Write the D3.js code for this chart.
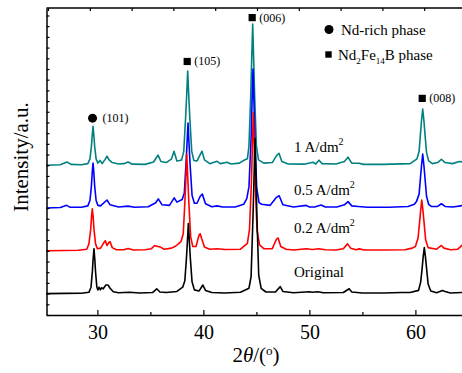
<!DOCTYPE html>
<html>
<head>
<meta charset="utf-8">
<script src="https://cdn.jsdelivr.net/npm/d3@7/dist/d3.min.js"></script>
<style>
  html, body { margin: 0; padding: 0; background: #fff; }
  svg { display: block; }
  text { font-family: "Liberation Serif", "Times New Roman", serif; fill: #000; }
</style>
</head>
<body>
<svg id="chart" width="462" height="373"></svg>
<script>
// ---------------- DATA ----------------
// 2θ (deg) and intensity above each curve's own baseline (a.u.)
const original = [
  [25.2,0],[27.0,2],[28.5,3],[29.2,12],[29.4,60],[29.53,210],[29.61,340],[29.68,420],[29.75,330],
  [29.83,200],[29.95,60],[30.05,35],[30.15,60],[30.28,35],[30.4,55],[30.55,45],[30.8,80],[31.0,80],
  [31.2,50],[31.5,18],[32.0,8],[33.0,12],[34.0,5],[35.2,10],[35.6,45],[35.9,15],[36.5,10],[37.5,20],
  [38.05,60],[38.25,120],[38.4,330],[38.5,500],[38.58,655],[38.67,500],[38.77,330],[38.93,110],
  [39.15,35],[39.6,25],[39.95,80],[40.2,30],[40.8,10],[42.0,6],[43.5,12],[44.3,50],[44.5,160],
  [44.68,720],[44.78,1100],[44.87,1450],[44.96,1100],[45.05,720],[45.22,170],[45.45,50],[45.9,15],
  [46.8,15],[47.25,65],[47.5,20],[48.5,8],[50.0,18],[50.3,12],[50.8,18],[51.3,8],[53.2,10],
  [53.75,45],[54.0,15],[55.0,5],[57.0,5],[58.7,10],[59.5,10],[60.3,30],[60.5,110],[60.62,220],
  [60.74,350],[60.84,430],[60.94,350],[61.07,220],[61.2,90],[61.45,25],[62.0,8],[62.55,30],
  [62.8,20],[63.3,5],[64.4,10],[65.0,5]
];
const cd02 = [
  [25.2,0],[27.0,3],[28.2,5],[29.0,15],[29.2,65],[29.37,200],[29.45,320],[29.52,393],[29.6,320],
  [29.68,200],[29.83,65],[30.0,20],[30.3,25],[30.6,75],[30.75,95],[30.9,50],[31.1,80],[31.2,85],
  [31.4,30],[31.8,10],[32.5,10],[32.9,22],[33.4,8],[34.5,10],[35.1,20],[35.4,50],[35.7,40],
  [35.95,35],[36.3,15],[37.0,25],[37.4,45],[37.7,70],[37.9,90],[38.1,160],[38.25,450],[38.35,680],
  [38.43,905],[38.53,680],[38.63,450],[38.8,130],[39.0,40],[39.3,40],[39.6,150],[39.7,160],
  [39.85,110],[40.1,35],[40.6,15],[41.3,20],[42.0,12],[43.5,15],[44.15,70],[44.35,200],[44.53,640],
  [44.62,980],[44.71,1290],[44.8,980],[44.89,640],[45.06,190],[45.3,55],[45.7,20],[46.5,20],
  [46.9,110],[47.05,120],[47.3,40],[47.8,15],[48.5,8],[49.7,20],[50.3,12],[50.9,20],[51.5,10],
  [52.5,8],[53.2,20],[53.6,65],[53.9,25],[54.4,10],[54.7,18],[55.2,8],[57.0,8],[59.0,10],
  [59.7,25],[60.0,40],[60.25,120],[60.37,240],[60.5,380],[60.6,475],[60.71,380],[60.84,240],
  [60.97,100],[61.2,30],[62.0,15],[62.45,50],[62.7,25],[63.3,10],[64.0,15],[64.5,60],[65.0,90]
];
const cd05 = [
  [25.2,0],[26.5,5],[27.1,25],[27.4,8],[28.5,8],[29.1,20],[29.3,70],[29.44,210],[29.52,340],
  [29.59,420],[29.66,340],[29.74,210],[29.88,70],[30.05,25],[30.3,20],[30.9,75],[31.2,30],[32.0,10],
  [32.9,18],[33.5,8],[34.8,12],[35.5,50],[35.75,85],[36.1,30],[36.8,25],[37.25,95],[37.5,55],
  [38.0,80],[38.2,140],[38.35,400],[38.45,590],[38.55,795],[38.65,590],[38.75,400],[38.93,120],
  [39.15,45],[39.4,45],[39.7,110],[39.9,130],[40.2,40],[40.8,12],[41.3,20],[41.8,10],[43.0,10],
  [43.8,35],[44.1,90],[44.3,200],[44.5,650],[44.59,990],[44.68,1300],[44.77,990],[44.86,650],
  [45.03,190],[45.25,50],[45.5,35],[46.3,25],[46.9,100],[47.15,115],[47.5,30],[48.5,10],[49.7,25],
  [50.0,10],[50.5,10],[51.1,28],[51.5,10],[52.6,10],[53.3,30],[53.65,60],[54.0,20],[54.6,15],
  [55.5,8],[57.5,8],[59.3,15],[59.9,35],[60.1,60],[60.35,130],[60.45,250],[60.58,400],[60.69,505],
  [60.8,400],[60.93,250],[61.05,110],[61.25,35],[61.5,15],[62.1,15],[62.45,40],[62.8,15],
  [63.5,10],[64.3,20],[65.0,60]
];
const cd1 = [
  [25.2,0],[26.5,4],[27.13,30],[27.5,8],[28.5,5],[29.1,15],[29.3,60],[29.44,180],[29.52,290],
  [29.59,365],[29.66,290],[29.74,180],[29.88,60],[30.05,20],[30.25,45],[30.45,15],[30.7,50],
  [30.91,84],[31.1,50],[31.4,25],[32.0,12],[32.5,15],[32.89,30],[33.3,10],[34.5,8],[35.3,30],
  [35.72,94],[36.0,35],[36.5,25],[37.0,60],[37.23,131],[37.5,40],[37.75,45],[37.95,50],[38.15,130],
  [38.32,440],[38.42,650],[38.52,880],[38.62,650],[38.72,440],[38.9,130],[39.1,45],[39.4,40],
  [39.87,131],[40.1,50],[40.6,15],[41.29,37],[41.6,15],[42.23,28],[42.6,12],[43.4,20],[43.83,47],
  [44.15,60],[44.3,180],[44.47,660],[44.56,1000],[44.65,1320],[44.74,1000],[44.83,660],[45.0,180],
  [45.2,50],[45.7,20],[46.5,25],[46.9,90],[47.13,112],[47.4,35],[48.0,12],[49.5,10],[50.34,28],
  [50.6,12],[50.9,47],[51.2,15],[52.5,12],[53.3,35],[53.64,75],[54.0,20],[54.68,19],[55.1,8],
  [57.0,8],[59.5,15],[60.15,60],[60.35,130],[60.45,260],[60.58,420],[60.69,525],[60.8,420],
  [60.93,260],[61.05,120],[61.25,40],[61.6,15],[62.1,25],[62.45,56],[62.8,25],[63.5,15],
  [64.15,35],[64.5,30],[65.0,40]
];

const seriesNames   = ["Original", "0.2 A/dm", "0.5 A/dm", "1 A/dm"];
const seriesData    = [original, cd02, cd05, cd1];
const seriesOffsets = [200, 600, 1000, 1400];
const seriesColors  = ["#000000", "#ff0000", "#0000ff", "#008080"];

const xTicksMajor = [30, 40, 50, 60];
const xTicksMinor = [35, 45, 55];

// peak annotations: hkl label, 2θ, marker y (a.u.), marker type
const peakLabels  = ["(101)", "(105)", "(006)", "(008)"];
const peakTheta   = [29.59, 38.52, 44.65, 60.69];
const peakMarkY   = [1840, 2370, 2780, 2025];
const peakMarker  = ["circle", "square", "square", "square"];

const legendLabels = ["Nd-rich phase", "Nd2Fe14B phase"];

// ---------------- CHART ----------------
const svg = d3.select("#chart");
const x = d3.scaleLinear().domain([25.2, 65]).range([46.5, 468.4]);
const y = d3.scaleLinear().domain([0, 2870]).range([315, 8]);
const xTop = d3.scaleLinear().domain([0, 10]).range([48, 466]);

// curves (teal first, black last)
const line = d3.line().x(d => x(d[0])).y(d => y(d[1]));
for (let i = seriesData.length - 1; i >= 0; i--) {
  const off = seriesOffsets[i];
  svg.append("path")
    .datum(seriesData[i].map(d => [d[0], d[1] + off]))
    .attr("d", line)
    .attr("fill", "none")
    .attr("stroke", seriesColors[i])
    .attr("stroke-width", 1.6)
    .attr("stroke-linejoin", "round");
}

// axes
const gB = svg.append("g").attr("transform", `translate(0,${y(0)})`)
  .call(d3.axisBottom(x).tickValues(xTicksMajor).tickSizeInner(-5).tickSizeOuter(0).tickPadding(10).tickFormat(d3.format("d")));
gB.selectAll("text").style("font-size", "20px").style("font-family", "Liberation Serif");
const gBm = svg.append("g").attr("transform", `translate(0,${y(0)})`)
  .call(d3.axisBottom(x).tickValues(xTicksMinor).tickSizeInner(-3).tickSizeOuter(0).tickFormat(""));
gBm.select(".domain").remove();

const gL = svg.append("g").attr("transform", `translate(${x(25.2)},0)`)
  .call(d3.axisLeft(y).tickValues(d3.range(0, 2871, 100)).tickSizeInner(-3).tickSizeOuter(0).tickFormat(""));

const gT = svg.append("g").attr("transform", `translate(0,${y(2870)})`)
  .call(d3.axisTop(xTop).ticks(10).tickSizeInner(-3).tickSizeOuter(0).tickFormat(""));
gT.select(".domain").attr("d", `M${x(25.2)},0H${x(65)}`);

svg.selectAll(".domain").attr("stroke", "#000").attr("stroke-width", 1.5);
svg.selectAll(".tick line").attr("stroke", "#000").attr("stroke-width", 1.2);

// axis titles
const xt = svg.append("text").attr("x", 256).attr("y", 362).attr("text-anchor", "middle").style("font-size", "21px");
xt.append("tspan").text("2");
xt.append("tspan").style("font-style", "italic").text("θ");
xt.append("tspan").text("/(");
xt.append("tspan").attr("dy", -7).style("font-size", "13px").text("o");
xt.append("tspan").attr("dy", 7).text(")");

svg.append("text").attr("transform", "translate(28,157) rotate(-90)")
  .attr("text-anchor", "middle").style("font-size", "21px").text("Intensity/a.u.");

// curve labels
const labelY = [277, 233, 195, 152];
seriesNames.forEach((n, i) => {
  const t = svg.append("text").attr("x", 294).attr("y", labelY[i]).style("font-size", "15px");
  t.append("tspan").text(n);
  if (i > 0) t.append("tspan").attr("dy", -7).style("font-size", "10px").text("2");
});

// peak markers
function drawMarker(type, cx, cy, size) {
  if (type === "circle") {
    svg.append("circle").attr("cx", cx).attr("cy", cy).attr("r", size / 2).attr("fill", "#000");
  } else {
    svg.append("rect").attr("x", cx - size * 0.4).attr("y", cy - size * 0.4)
      .attr("width", size * 0.8).attr("height", size * 0.8).attr("fill", "#000");
  }
}
peakLabels.forEach((lab, i) => {
  const cx = x(peakTheta[i]) - 0.5, cy = y(peakMarkY[i]);
  drawMarker(peakMarker[i], cx, cy, 9);
  svg.append("text").attr("x", cx + (peakMarker[i] === "circle" ? 10 : 7)).attr("y", cy + 4)
    .style("font-size", "12px").text(lab);
});

// legend
drawMarker("circle", 329, 29.5, 9);
svg.append("text").attr("x", 341).attr("y", 35).style("font-size", "15px").text(legendLabels[0]);
drawMarker("square", 328.5, 54.5, 8);
const lg = svg.append("text").attr("x", 338).attr("y", 60).style("font-size", "15px");
lg.append("tspan").text("Nd");
lg.append("tspan").attr("dy", 4).style("font-size", "9px").text("2");
lg.append("tspan").attr("dy", -4).text("Fe");
lg.append("tspan").attr("dy", 4).style("font-size", "9px").text("14");
lg.append("tspan").attr("dy", -4).text("B phase");
</script>
</body>
</html>
